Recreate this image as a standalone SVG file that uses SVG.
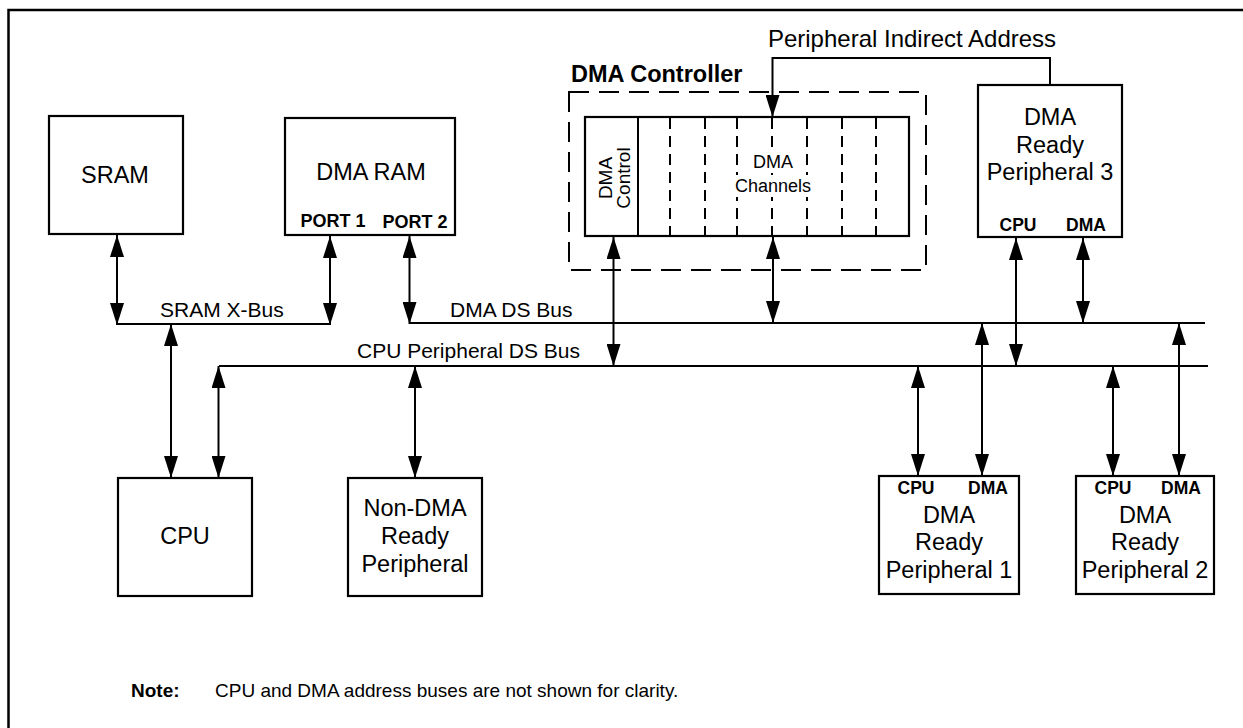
<svg xmlns="http://www.w3.org/2000/svg" width="1243" height="728" viewBox="0 0 1243 728">
<style>
text{font-family:"Liberation Sans",Arial,sans-serif;fill:#000}
.box{fill:#fff;stroke:#000;stroke-width:2.2}
.t{font-size:23.5px;text-anchor:middle}
.b{font-size:17.5px;font-weight:bold;text-anchor:middle}
.bus{font-size:21px}
.ln{fill:none;stroke:#000;stroke-width:2}
.dbl{fill:none;stroke:#000;stroke-width:2;marker-start:url(#ah);marker-end:url(#ah)}
.one{fill:none;stroke:#000;stroke-width:2;marker-end:url(#ah)}
.dash{fill:none;stroke:#000;stroke-width:2;stroke-dasharray:20 10}
.vd{fill:none;stroke:#000;stroke-width:2;stroke-dasharray:11 7}
</style>
<defs>
<marker id="ah" viewBox="0 0 22 14" refX="22" refY="7" markerWidth="22" markerHeight="14" markerUnits="userSpaceOnUse" orient="auto-start-reverse">
<path d="M0,0 L22,7 L0,14 Z" fill="#000"/>
</marker>
</defs>
<rect width="1243" height="728" fill="#fff"/>
<path d="M8.5,728 V10 H1243" fill="none" stroke="#000" stroke-width="2.5"/>

<g id="sram"><rect class="box" x="49" y="116" width="134" height="118"/><text class="t" x="115" y="183">SRAM</text></g>
<g id="dmaram"><rect class="box" x="285" y="118" width="170" height="117"/><text class="t" x="371" y="180">DMA RAM</text><text class="b" x="333" y="227" style="font-size:18px">PORT 1</text><text class="b" x="415" y="228" style="font-size:18px">PORT 2</text></g>
<g id="dmacontroller">
<text x="571" y="82" style="font-size:23.5px;font-weight:bold">DMA Controller</text>
<rect class="dash" x="569" y="92" width="357" height="178"/>
<rect class="box" x="585" y="117" width="324" height="119"/>
<line class="ln" x1="638" y1="117" x2="638" y2="236"/>
<g class="vd"><line x1="670" y1="118" x2="670" y2="235"/><line x1="705" y1="118" x2="705" y2="235"/><line x1="737" y1="118" x2="737" y2="235"/><line x1="772" y1="118" x2="772" y2="235"/><line x1="807" y1="118" x2="807" y2="235"/><line x1="842" y1="118" x2="842" y2="235"/><line x1="876" y1="118" x2="876" y2="235"/></g>
<rect x="748" y="152" width="46" height="21" fill="#fff"/>
<rect x="734" y="175" width="80" height="22" fill="#fff"/>
<text x="773" y="168" style="font-size:18px;text-anchor:middle">DMA</text>
<text x="773" y="192" style="font-size:18px;text-anchor:middle">Channels</text>
<text transform="translate(612,178) rotate(-90)" style="font-size:19px;text-anchor:middle">DMA</text>
<text transform="translate(630,178) rotate(-90)" style="font-size:19px;text-anchor:middle">Control</text>
</g>
<g id="periph3"><rect class="box" x="978" y="85" width="144" height="152"/><text class="t" x="1050" y="125">DMA</text><text class="t" x="1050" y="153">Ready</text><text class="t" x="1050" y="180">Peripheral 3</text><text class="b" x="1018" y="231">CPU</text><text class="b" x="1086" y="231">DMA</text></g>
<g id="cpu"><rect class="box" x="118" y="478" width="134" height="118"/><text class="t" x="185" y="544">CPU</text></g>
<g id="nondma"><rect class="box" x="348" y="478" width="134" height="118"/><text class="t" x="415" y="516">Non-DMA</text><text class="t" x="415" y="544">Ready</text><text class="t" x="415" y="572">Peripheral</text></g>
<g id="periph1"><rect class="box" x="879" y="476" width="140" height="118"/><text class="b" x="916" y="494">CPU</text><text class="b" x="988" y="494">DMA</text><text class="t" x="949" y="523">DMA</text><text class="t" x="949" y="550">Ready</text><text class="t" x="949" y="578">Peripheral 1</text></g>
<g id="periph2"><rect class="box" x="1076" y="476" width="138" height="118"/><text class="b" x="1113" y="494">CPU</text><text class="b" x="1181" y="494">DMA</text><text class="t" x="1145" y="523">DMA</text><text class="t" x="1145" y="550">Ready</text><text class="t" x="1145" y="578">Peripheral 2</text></g>

<g id="labels">
<text class="bus" x="160" y="317">SRAM X-Bus</text>
<text class="bus" x="450" y="317">DMA DS Bus</text>
<text class="bus" x="357" y="358">CPU Peripheral DS Bus</text>
<text x="912" y="47" style="font-size:24px;text-anchor:middle">Peripheral Indirect Address</text>
</g>

<g id="connectors">
<line class="ln" x1="116" y1="324" x2="331" y2="324"/>
<line class="ln" x1="409" y1="323" x2="1205" y2="323"/>
<line class="ln" x1="219" y1="366" x2="1208" y2="366"/>
<line class="dbl" x1="117" y1="235" x2="117" y2="325"/>
<line class="dbl" x1="330" y1="236" x2="330" y2="325"/>
<line class="dbl" x1="409.5" y1="236" x2="409.5" y2="324"/>
<line class="dbl" x1="171" y1="324" x2="171" y2="478"/>
<line class="dbl" x1="218.5" y1="366" x2="218.5" y2="478"/>
<line class="dbl" x1="415" y1="366" x2="415" y2="478"/>
<line class="dbl" x1="613.5" y1="237" x2="613.5" y2="366"/>
<line class="dbl" x1="773" y1="237" x2="773" y2="323"/>
<path class="one" d="M1050,85 V58 H772.5 V117"/>
<line class="dbl" x1="1016" y1="238" x2="1016" y2="366"/>
<line class="dbl" x1="1083" y1="238" x2="1083" y2="323"/>
<line class="dbl" x1="918" y1="366" x2="918" y2="476"/>
<line class="dbl" x1="982" y1="323" x2="982" y2="476"/>
<line class="dbl" x1="1113" y1="366" x2="1113" y2="476"/>
<line class="dbl" x1="1179" y1="323" x2="1179" y2="476"/>
</g>

<g id="note">
<text x="131" y="697" style="font-size:19px;font-weight:bold">Note:</text>
<text x="215" y="697" style="font-size:19px">CPU and DMA address buses are not shown for clarity.</text>
</g>
</svg>
